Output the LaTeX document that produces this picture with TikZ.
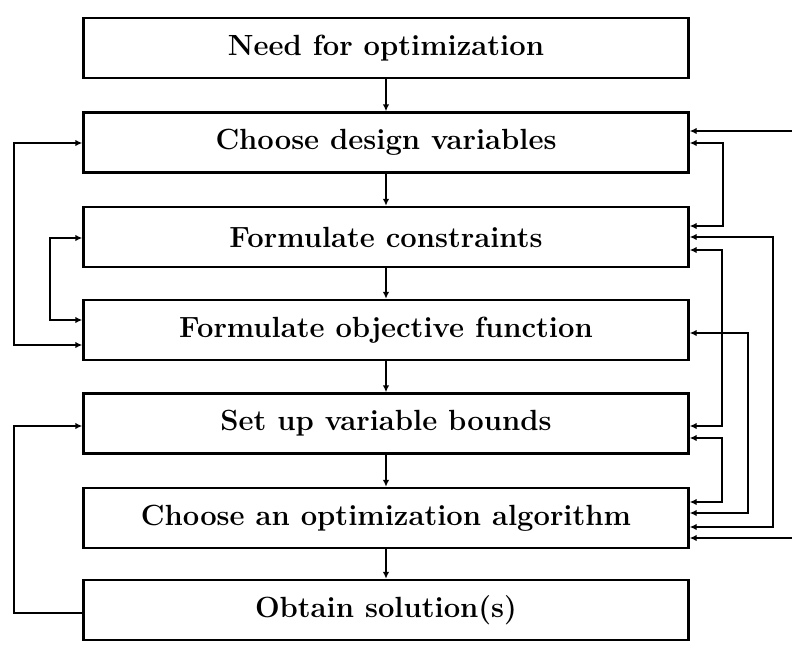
\documentclass[tikz,border=0pt]{standalone}
\usepackage{fontspec}
\usetikzlibrary{arrows.meta}
\begin{document}
\begin{tikzpicture}[x=1pt,y=-1pt,
  stage/.style={draw, line width=2.4pt, minimum width=605pt, minimum height=60pt,
    inner sep=0pt, font=\fontsize{29.2}{35}\selectfont\bfseries},
  tip/.tip={Latex[length=7pt,width=6.5pt]},
  link/.style={line width=1.8pt, -tip},
  twoway/.style={line width=1.8pt, tip-tip}]
\useasboundingbox (0,0) rectangle (792,648);
\clip (0,0) rectangle (792,648);

% process stages
\node[stage] (b1) at (386,48)    {Need for optimization};
\node[stage] (b2) at (386,142.5) {Choose design variables};
\node[stage] (b3) at (386,237)   {Formulate constraints};
\node[stage] (b4) at (386,330)   {Formulate objective function};
\node[stage] (b5) at (386,423.5) {Set up variable bounds};
\node[stage] (b6) at (386,518)   {Choose an optimization algorithm};
\node[stage] (b7) at (386,610)   {Obtain solution(s)};

% main flow
\draw[link] (b1) -- (b2);
\draw[link] (b2) -- (b3);
\draw[link] (b3) -- (b4);
\draw[link] (b4) -- (b5);
\draw[link] (b5) -- (b6);
\draw[link] (b6) -- (b7);

% feedback loops on the left
\draw[twoway] (b2.west |- 0,143) -- (14,143) -- (14,345) -- (b4.west |- 0,345);
\draw[twoway] (b3.west |- 0,238) -- (50,238) -- (50,320) -- (b4.west |- 0,320);
\draw[link] (b7.west |- 0,613) -- (14,613) -- (14,426) -- (b5.west |- 0,426);

% feedback loops on the right
\draw[twoway] (b2.east |- 0,131) -- (806,131) -- (806,538) -- (b6.east |- 0,538);
\draw[twoway] (b2.east |- 0,143) -- (723,143) -- (723,226) -- (b3.east |- 0,226);
\draw[twoway] (b3.east |- 0,237) -- (773,237) -- (773,527) -- (b6.east |- 0,527);
\draw[twoway] (b3.east |- 0,250) -- (722,250) -- (722,426) -- (b5.east |- 0,426);
\draw[twoway] (b4.east |- 0,333) -- (748,333) -- (748,513) -- (b6.east |- 0,513);
\draw[twoway] (b5.east |- 0,438) -- (722,438) -- (722,502) -- (b6.east |- 0,502);
\end{tikzpicture}
\end{document}
